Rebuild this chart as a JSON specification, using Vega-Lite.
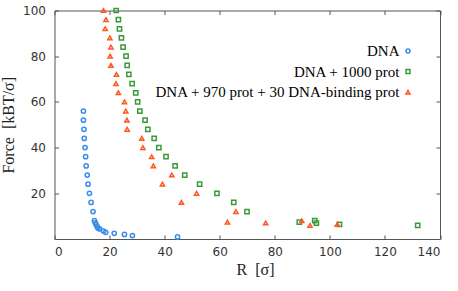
{
  "$schema": "https://vega.github.io/schema/vega-lite/v6.json",
  "width": 385.5,
  "height": 228.5,
  "autosize": {"type": "none"},
  "padding": {"left": 54.5, "top": 10.5, "right": 18, "bottom": 52},
  "background": "white",
  "config": {
    "view": {"stroke": "#555555", "strokeWidth": 1},
    "axis": {
      "domain": false,
      "grid": false,
      "tickColor": "#555555",
      "tickSize": -4,
      "labelFont": "DejaVu Sans",
      "labelFontSize": 12,
      "labelColor": "#333333",
      "titleFont": "Liberation Serif",
      "titleFontSize": 16,
      "titleFontWeight": "normal",
      "titleColor": "#222222"
    },
    "legend": {
      "orient": "none",
      "legendX": 346,
      "legendY": 33,
      "padding": 0,
      "labelAlign": "right",
      "labelOffset": -16,
      "labelFont": "Liberation Serif",
      "labelFontSize": 15,
      "labelColor": "black",
      "labelLimit": 0,
      "rowPadding": 4.6,
      "symbolSize": 16,
      "symbolStrokeWidth": 1.5
    }
  },
  "data": {
    "values": [
      {"series": "DNA", "R": 10.5, "F": 56},
      {"series": "DNA", "R": 10.5, "F": 52},
      {"series": "DNA", "R": 10.7, "F": 48},
      {"series": "DNA", "R": 10.8, "F": 44},
      {"series": "DNA", "R": 11.1, "F": 40},
      {"series": "DNA", "R": 11.3, "F": 36},
      {"series": "DNA", "R": 11.5, "F": 32},
      {"series": "DNA", "R": 11.9, "F": 28},
      {"series": "DNA", "R": 12.2, "F": 24},
      {"series": "DNA", "R": 12.7, "F": 20},
      {"series": "DNA", "R": 13.3, "F": 16},
      {"series": "DNA", "R": 14.0, "F": 12},
      {"series": "DNA", "R": 14.5, "F": 8},
      {"series": "DNA", "R": 14.8, "F": 7.1},
      {"series": "DNA", "R": 15.1, "F": 6.3},
      {"series": "DNA", "R": 15.5, "F": 5.4},
      {"series": "DNA", "R": 15.8, "F": 4.8},
      {"series": "DNA", "R": 16.4, "F": 4.4},
      {"series": "DNA", "R": 17.8, "F": 3.5},
      {"series": "DNA", "R": 18.6, "F": 2.9},
      {"series": "DNA", "R": 21.7, "F": 2.5},
      {"series": "DNA", "R": 25.4, "F": 2.0},
      {"series": "DNA", "R": 28.3, "F": 1.5},
      {"series": "DNA", "R": 44.7, "F": 0.9},
      {"series": "DNA + 1000 prot", "R": 22.4, "F": 100},
      {"series": "DNA + 1000 prot", "R": 23.2, "F": 96},
      {"series": "DNA + 1000 prot", "R": 23.6, "F": 92},
      {"series": "DNA + 1000 prot", "R": 24.3, "F": 88},
      {"series": "DNA + 1000 prot", "R": 24.9, "F": 84},
      {"series": "DNA + 1000 prot", "R": 26.0, "F": 80},
      {"series": "DNA + 1000 prot", "R": 26.4, "F": 76},
      {"series": "DNA + 1000 prot", "R": 27.0, "F": 72},
      {"series": "DNA + 1000 prot", "R": 28.2, "F": 68},
      {"series": "DNA + 1000 prot", "R": 29.5, "F": 64},
      {"series": "DNA + 1000 prot", "R": 30.2, "F": 60},
      {"series": "DNA + 1000 prot", "R": 31.0, "F": 56},
      {"series": "DNA + 1000 prot", "R": 32.9, "F": 52},
      {"series": "DNA + 1000 prot", "R": 33.9, "F": 48},
      {"series": "DNA + 1000 prot", "R": 36.2, "F": 44},
      {"series": "DNA + 1000 prot", "R": 37.9, "F": 40},
      {"series": "DNA + 1000 prot", "R": 40.5, "F": 36},
      {"series": "DNA + 1000 prot", "R": 43.8, "F": 32},
      {"series": "DNA + 1000 prot", "R": 47.3, "F": 28},
      {"series": "DNA + 1000 prot", "R": 52.7, "F": 24},
      {"series": "DNA + 1000 prot", "R": 59.0, "F": 20},
      {"series": "DNA + 1000 prot", "R": 65.1, "F": 16},
      {"series": "DNA + 1000 prot", "R": 69.9, "F": 12},
      {"series": "DNA + 1000 prot", "R": 88.9, "F": 7.4},
      {"series": "DNA + 1000 prot", "R": 94.5, "F": 8.0},
      {"series": "DNA + 1000 prot", "R": 95.1, "F": 7.0},
      {"series": "DNA + 1000 prot", "R": 103.5, "F": 6.4},
      {"series": "DNA + 1000 prot", "R": 131.9, "F": 6.0},
      {"series": "DNA + 970 prot + 30 DNA-binding prot", "R": 17.8, "F": 100},
      {"series": "DNA + 970 prot + 30 DNA-binding prot", "R": 18.7, "F": 96},
      {"series": "DNA + 970 prot + 30 DNA-binding prot", "R": 18.4, "F": 92},
      {"series": "DNA + 970 prot + 30 DNA-binding prot", "R": 20.1, "F": 88},
      {"series": "DNA + 970 prot + 30 DNA-binding prot", "R": 20.5, "F": 84},
      {"series": "DNA + 970 prot + 30 DNA-binding prot", "R": 20.2, "F": 80},
      {"series": "DNA + 970 prot + 30 DNA-binding prot", "R": 20.5, "F": 76},
      {"series": "DNA + 970 prot + 30 DNA-binding prot", "R": 22.5, "F": 72},
      {"series": "DNA + 970 prot + 30 DNA-binding prot", "R": 22.3, "F": 68},
      {"series": "DNA + 970 prot + 30 DNA-binding prot", "R": 23.2, "F": 64},
      {"series": "DNA + 970 prot + 30 DNA-binding prot", "R": 25.4, "F": 60},
      {"series": "DNA + 970 prot + 30 DNA-binding prot", "R": 25.9, "F": 56},
      {"series": "DNA + 970 prot + 30 DNA-binding prot", "R": 26.3, "F": 52},
      {"series": "DNA + 970 prot + 30 DNA-binding prot", "R": 26.4, "F": 48},
      {"series": "DNA + 970 prot + 30 DNA-binding prot", "R": 31.7, "F": 44},
      {"series": "DNA + 970 prot + 30 DNA-binding prot", "R": 32.1, "F": 40},
      {"series": "DNA + 970 prot + 30 DNA-binding prot", "R": 35.3, "F": 36},
      {"series": "DNA + 970 prot + 30 DNA-binding prot", "R": 35.9, "F": 32},
      {"series": "DNA + 970 prot + 30 DNA-binding prot", "R": 42.6, "F": 28},
      {"series": "DNA + 970 prot + 30 DNA-binding prot", "R": 39.2, "F": 24},
      {"series": "DNA + 970 prot + 30 DNA-binding prot", "R": 51.6, "F": 20},
      {"series": "DNA + 970 prot + 30 DNA-binding prot", "R": 46.1, "F": 16},
      {"series": "DNA + 970 prot + 30 DNA-binding prot", "R": 65.9, "F": 12},
      {"series": "DNA + 970 prot + 30 DNA-binding prot", "R": 62.8, "F": 7.4},
      {"series": "DNA + 970 prot + 30 DNA-binding prot", "R": 76.7, "F": 7.0},
      {"series": "DNA + 970 prot + 30 DNA-binding prot", "R": 89.8, "F": 8.0},
      {"series": "DNA + 970 prot + 30 DNA-binding prot", "R": 92.8, "F": 5.9},
      {"series": "DNA + 970 prot + 30 DNA-binding prot", "R": 102.7, "F": 6.4}
    ]
  },
  "layer": [
    {
      "mark": {"type": "point", "filled": false, "strokeWidth": 1.5, "size": 18, "opacity": 1},
      "encoding": {
        "x": {
          "field": "R", "type": "quantitative",
          "scale": {"domain": [0, 140], "nice": false},
          "axis": {"orient": "bottom", "values": [0, 20, 40, 60, 80, 100, 120, 140], "labelPadding": 11, "title": "R\u00a0\u00a0[σ]", "titlePadding": 4, "titleX": 200.5}
        },
        "y": {
          "field": "F", "type": "quantitative",
          "scale": {"domain": [0, 100], "nice": false},
          "axis": {"orient": "left", "values": [20, 40, 60, 80, 100], "labelPadding": 13, "title": "Force\u00a0\u00a0[kBT/σ]", "titlePadding": 6}
        },
        "color": {
          "field": "series", "type": "nominal",
          "scale": {"domain": ["DNA", "DNA + 1000 prot", "DNA + 970 prot + 30 DNA-binding prot"], "range": ["#3a8ee6", "#3a9a3a", "#ff5722"]},
          "legend": {"title": null}
        },
        "shape": {
          "field": "series", "type": "nominal",
          "scale": {"domain": ["DNA", "DNA + 1000 prot", "DNA + 970 prot + 30 DNA-binding prot"], "range": ["circle", "square", "triangle-up"]},
          "legend": {"title": null}
        }
      }
    },
    {
      "mark": {"type": "point", "opacity": 0},
      "encoding": {
        "x": {
          "field": "R", "type": "quantitative",
          "axis": {"orient": "top", "values": [0, 20, 40, 60, 80, 100, 120, 140], "labels": false, "title": null}
        },
        "y": {
          "field": "F", "type": "quantitative",
          "axis": {"orient": "right", "values": [20, 40, 60, 80, 100], "labels": false, "title": null}
        }
      }
    }
  ],
  "resolve": {"axis": {"x": "independent", "y": "independent"}}
}
